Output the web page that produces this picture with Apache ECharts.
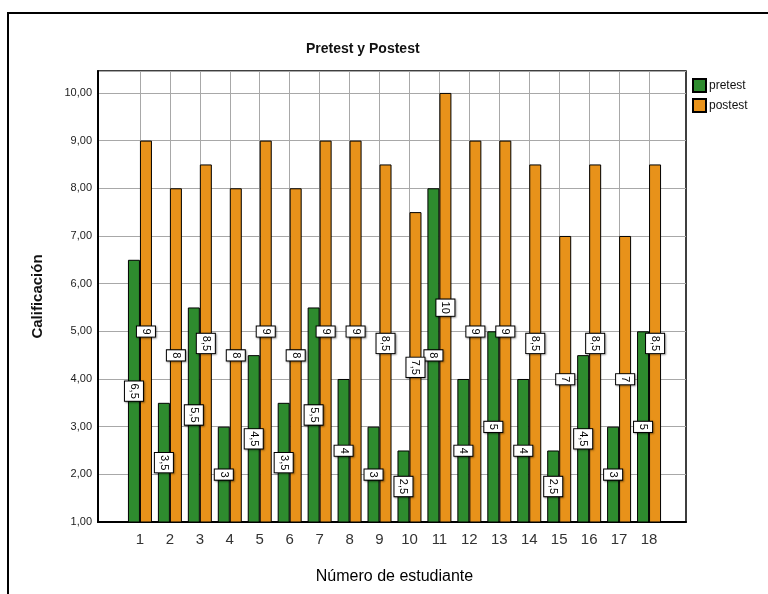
<!DOCTYPE html>
<html>
<head>
<meta charset="utf-8">
<script src="https://cdn.jsdelivr.net/npm/echarts@6/dist/echarts.min.js"></script>
<style>html,body{margin:0;padding:0;background:#fff}#c{width:768px;height:594px}</style>
</head>
<body>
<div id="c"></div>
<script>
const categories = ['1','2','3','4','5','6','7','8','9','10','11','12','13','14','15','16','17','18'];
const pretest = [6.5, 3.5, 5.5, 3, 4.5, 3.5, 5.5, 4, 3, 2.5, 8, 4, 5, 4, 2.5, 4.5, 3, 5];
const postest = [9, 8, 8.5, 8, 9, 8, 9, 9, 8.5, 7.5, 10, 9, 9, 8.5, 7, 8.5, 7, 8.5];
const yTicks = [1, 2, 3, 4, 5, 6, 7, 8, 9, 10];

const FONT = '"Liberation Sans", Arial, sans-serif';
const comma = v => String(v).replace('.', ',');

// pad one empty slot at each end so the groups sit inside the plot frame
const axisCats = [''].concat(categories, ['']);
const pad = arr => [null].concat(arr, [null]);

const labelStyle = {
  show: true,
  position: 'inside',
  rotate: -90,
  formatter: p => comma(p.value),
  color: '#000',
  fontFamily: FONT,
  fontSize: 11,
  backgroundColor: '#fff',
  borderColor: '#000',
  borderWidth: 1,
  padding: [4, 2, 3, 2],
  shadowColor: 'rgba(0,0,0,0.35)',
  shadowBlur: 2,
  shadowOffsetX: 1,
  shadowOffsetY: 1
};

const chart = echarts.init(document.getElementById('c'), null, {renderer: 'canvas'});
chart.setOption({
  backgroundColor: '#fff',
  animation: false,
  textStyle: {fontFamily: FONT},
  title: {
    text: 'Pretest y Postest',
    left: 301, top: 37,
    textStyle: {fontFamily: FONT, fontSize: 14, fontWeight: 'bold', color: '#111'}
  },
  legend: {
    orient: 'vertical',
    left: 687, top: 73,
    itemWidth: 13, itemHeight: 13, itemGap: 5,
    icon: 'rect',
    textStyle: {fontFamily: FONT, fontSize: 12, color: '#111', padding: [0, 0, 0, -2]},
    data: ['pretest', 'postest']
  },
  graphic: [{
    type: 'rect',
    shape: {x: 8, y: 13, width: 800, height: 700},
    style: {fill: 'none', stroke: '#000', lineWidth: 2},
    silent: true, z: 100
  }],
  grid: [
    {left: 98, right: 82, top: 71, bottom: 72, show: true, borderColor: '#000', borderWidth: 1.5},
    {left: 110, right: 89, top: 71, bottom: 72}
  ],
  xAxis: [
    {
      gridIndex: 0, type: 'value', min: 0, max: 1,
      axisLine: {show: true, onZero: false, lineStyle: {color: '#000', width: 2}},
      axisTick: {show: false}, axisLabel: {show: false}, splitLine: {show: false}
    },
    {
      gridIndex: 1, type: 'category', data: axisCats, boundaryGap: false,
      axisLine: {show: false}, axisTick: {show: false},
      axisLabel: {fontFamily: FONT, fontSize: 15, color: '#333', margin: 10, interval: 0},
      splitLine: {
        show: true,
        interval: (i, v) => v !== '',
        lineStyle: {color: '#a8a8a8', width: 1}
      },
      name: 'Número de estudiante', nameLocation: 'middle', nameGap: 47,
      nameTextStyle: {fontFamily: FONT, fontSize: 16, color: '#000'}
    }
  ],
  yAxis: [
    {
      gridIndex: 0, type: 'value', min: 1, max: 10.46, interval: 1,
      axisLine: {show: true, lineStyle: {color: '#000', width: 2}},
      axisTick: {show: false},
      axisLabel: {
        fontFamily: FONT, fontSize: 11, color: '#222', margin: 6,
        formatter: v => yTicks.indexOf(v) >= 0 ? v.toFixed(2).replace('.', ',') : ''
      },
      splitLine: {show: true, lineStyle: {color: '#a8a8a8', width: 1}},
      name: 'Calificación', nameLocation: 'middle', nameGap: 53,
      nameTextStyle: {fontFamily: FONT, fontSize: 15, fontWeight: 'bold', color: '#111'}
    },
    {
      gridIndex: 1, type: 'value', min: 1, max: 10.46, interval: 1,
      show: false
    }
  ],
  series: [
    {
      name: 'pretest', type: 'bar', xAxisIndex: 1, yAxisIndex: 1,
      data: pad(pretest), barWidth: 12, barGap: '0%', clip: true,
      itemStyle: {color: '#2E8B2E', borderColor: '#000', borderWidth: 1},
      label: labelStyle, z: 3
    },
    {
      name: 'postest', type: 'bar', xAxisIndex: 1, yAxisIndex: 1,
      data: pad(postest), barWidth: 12, barGap: '0%', clip: true,
      itemStyle: {color: '#E8921A', borderColor: '#000', borderWidth: 1},
      label: labelStyle, z: 3
    }
  ]
});
</script>
</body>
</html>
